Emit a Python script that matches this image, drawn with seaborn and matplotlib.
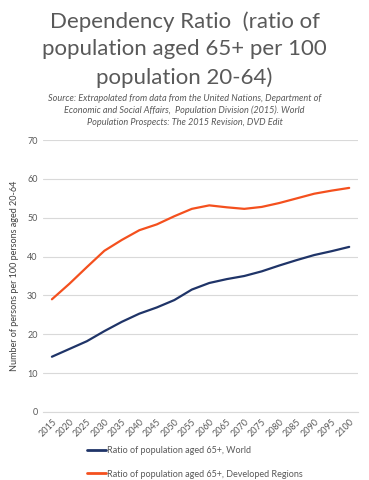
import numpy as np
import pandas as pd
import matplotlib
matplotlib.use("Agg")
from matplotlib import pyplot as plt
import seaborn as sns

years = ["2015", "2020", "2025", "2030", "2035", "2040", "2045", "2050", "2055",
         "2060", "2065", "2070", "2075", "2080", "2085", "2090", "2095", "2100"]
world = [14.2, 16.2, 18.2, 20.8, 23.2, 25.3, 26.9, 28.8, 31.5,
         33.2, 34.2, 35.0, 36.2, 37.7, 39.1, 40.4, 41.4, 42.5]
developed = [29.0, 33.0, 37.3, 41.5, 44.3, 46.8, 48.3, 50.4, 52.3,
             53.2, 52.7, 52.3, 52.8, 53.8, 55.0, 56.2, 57.0, 57.7]
series_names = ["Ratio of population aged 65+, World",
                "Ratio of population aged 65+, Developed Regions"]
colors = ["#1f3468", "#f4501e"]

df = pd.DataFrame({
    "year": years * 2,
    "value": world + developed,
    "series": [series_names[0]] * len(years) + [series_names[1]] * len(years),
})

sns.set_style("white")
plt.rcParams["font.family"] = ["Lato", "DejaVu Sans"]
grey = "#595959"

fig = plt.figure(figsize=(3.69, 4.8), dpi=100)
ax = fig.add_axes([0.117, 0.142, 0.853, 0.566])

sns.lineplot(data=df, x="year", y="value", hue="series", palette=colors,
             linewidth=1.6, ax=ax, legend=False, sort=False)

ax.set_xlim(-0.5, len(years) - 0.5)
ax.set_ylim(0, 70)
ax.set_yticks(range(0, 71, 10))
ax.yaxis.grid(True, color="#d9d9d9", linewidth=0.8)
ax.set_axisbelow(True)
for s in ["top", "right", "left"]:
    ax.spines[s].set_visible(False)
ax.spines["bottom"].set_color("#d9d9d9")
ax.tick_params(axis="both", length=0, colors=grey, labelsize=6.5, pad=4)
plt.setp(ax.get_xticklabels(), rotation=45, ha="right", rotation_mode="anchor")
ax.set_xlabel("")
ax.set_ylabel("Number of persons per 100 persons aged 20-64", fontsize=6.5, color="#404040", labelpad=6)

fig.text(0.5, 0.955, "Dependency Ratio  (ratio of", ha="center", va="center", fontsize=16, color=grey)
fig.text(0.5, 0.897, "population aged 65+ per 100", ha="center", va="center", fontsize=16, color=grey)
fig.text(0.5, 0.839, "population 20-64)", ha="center", va="center", fontsize=16, color=grey)
src = ("Source: Extrapolated from data from the United Nations, Department of\n"
       "Economic and Social Affairs,  Population Division (2015). World\n"
       "Population Prospects: The 2015 Revision, DVD Edit")
fig.text(0.5, 0.770, src, ha="center", va="center", fontsize=6.6, color=grey,
         style="italic", linespacing=1.4)

handles = [plt.Line2D([], [], color=c, linewidth=2) for c in colors]
fig.legend(handles, series_names, loc="lower left", bbox_to_anchor=(0.215, -0.014),
           frameon=False, fontsize=6.5, labelcolor=grey, handlelength=2.0,
           handletextpad=0.2, labelspacing=1.6)

fig.savefig("out.png", dpi=100)
